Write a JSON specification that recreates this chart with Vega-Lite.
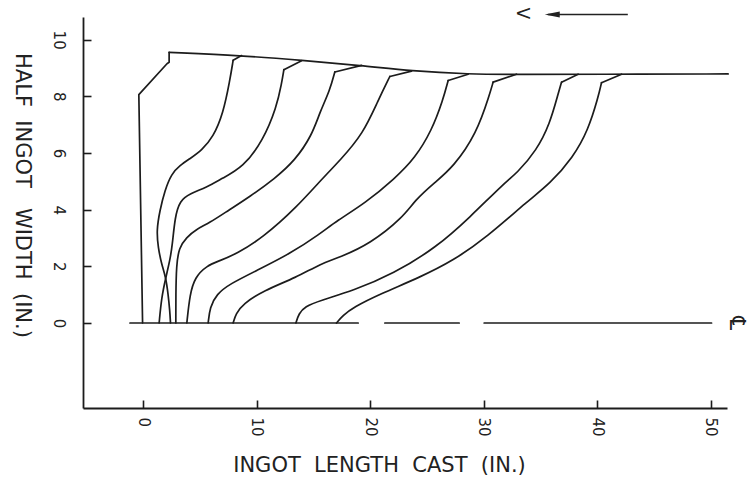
{
  "$schema": "https://vega.github.io/schema/vega-lite/v6.json",
  "width": 644,
  "height": 391,
  "autosize": {"type": "none"},
  "padding": {"left": 83, "top": 17, "right": 26, "bottom": 71},
  "background": "white",
  "config": {"view": {"stroke": null}, "font": "DejaVu Sans"},
  "datasets": {
    "straight": [
      {"s": "outer", "i": 1, "x": -0.05, "y": 0},
      {"s": "outer", "i": 2, "x": -0.38, "y": 8.06},
      {"s": "outer", "i": 3, "x": 2.1, "y": 9.15},
      {"s": "outer", "i": 4, "x": 2.29, "y": 9.2},
      {"s": "outer", "i": 5, "x": 2.29, "y": 9.55},
      {"s": "cl1", "i": 1, "x": -1.16, "y": 0},
      {"s": "cl1", "i": 2, "x": 18.95, "y": 0},
      {"s": "cl2", "i": 1, "x": 21.3, "y": 0},
      {"s": "cl2", "i": 2, "x": 27.85, "y": 0},
      {"s": "cl3", "i": 1, "x": 30.05, "y": 0},
      {"s": "cl3", "i": 2, "x": 50.09, "y": 0},
      {"s": "h1", "i": 1, "x": 8.67, "y": 9.44},
      {"s": "h1", "i": 2, "x": 7.93, "y": 9.27},
      {"s": "h2", "i": 1, "x": 13.96, "y": 9.26},
      {"s": "h2", "i": 2, "x": 12.4, "y": 8.94},
      {"s": "h3", "i": 1, "x": 19.25, "y": 9.09},
      {"s": "h3", "i": 2, "x": 16.89, "y": 8.86},
      {"s": "h4", "i": 1, "x": 23.65, "y": 8.89},
      {"s": "h4", "i": 2, "x": 21.74, "y": 8.7},
      {"s": "h5", "i": 1, "x": 28.64, "y": 8.78},
      {"s": "h5", "i": 2, "x": 26.88, "y": 8.56},
      {"s": "h6", "i": 1, "x": 32.9, "y": 8.78},
      {"s": "h6", "i": 2, "x": 30.84, "y": 8.5},
      {"s": "h7", "i": 1, "x": 38.33, "y": 8.78},
      {"s": "h7", "i": 2, "x": 36.87, "y": 8.5},
      {"s": "h8", "i": 1, "x": 42.16, "y": 8.78},
      {"s": "h8", "i": 2, "x": 40.39, "y": 8.48}
    ],
    "curves": [
      {"s": "top", "i": 1, "x": 2.29, "y": 9.55},
      {"s": "top", "i": 2, "x": 8.67, "y": 9.44},
      {"s": "top", "i": 3, "x": 13.96, "y": 9.27},
      {"s": "top", "i": 4, "x": 19.25, "y": 9.09},
      {"s": "top", "i": 5, "x": 23.65, "y": 8.89},
      {"s": "top", "i": 6, "x": 28.64, "y": 8.78},
      {"s": "top", "i": 7, "x": 33.2, "y": 8.77},
      {"s": "top", "i": 8, "x": 40.0, "y": 8.78},
      {"s": "top", "i": 9, "x": 51.55, "y": 8.79},

      {"s": "c1", "i": 2, "x": 7.93, "y": 9.27},
      {"s": "c1", "i": 3, "x": 7.64, "y": 8.56},
      {"s": "c1", "i": 4, "x": 7.05, "y": 7.39},
      {"s": "c1", "i": 5, "x": 6.17, "y": 6.56},
      {"s": "c1", "i": 6, "x": 5.15, "y": 6.09},
      {"s": "c1", "i": 7, "x": 4.12, "y": 5.8},
      {"s": "c1", "i": 8, "x": 3.24, "y": 5.56},
      {"s": "c1", "i": 9, "x": 2.5, "y": 5.27},
      {"s": "c1", "i": 10, "x": 1.91, "y": 4.68},
      {"s": "c1", "i": 11, "x": 1.47, "y": 3.97},
      {"s": "c1", "i": 12, "x": 1.18, "y": 3.27},
      {"s": "c1", "i": 13, "x": 1.32, "y": 2.67},
      {"s": "c1", "i": 14, "x": 1.62, "y": 2.08},
      {"s": "c1", "i": 15, "x": 2.0, "y": 1.61},
      {"s": "c1", "i": 16, "x": 2.2, "y": 1.02},
      {"s": "c1", "i": 17, "x": 2.35, "y": 0.43},
      {"s": "c1", "i": 18, "x": 2.41, "y": 0},

      {"s": "c2", "i": 2, "x": 12.4, "y": 8.94},
      {"s": "c2", "i": 3, "x": 12.2, "y": 8.45},
      {"s": "c2", "i": 4, "x": 11.76, "y": 7.62},
      {"s": "c2", "i": 5, "x": 10.57, "y": 6.44},
      {"s": "c2", "i": 6, "x": 8.81, "y": 5.5},
      {"s": "c2", "i": 7, "x": 6.94, "y": 5.1},
      {"s": "c2", "i": 8, "x": 5.59, "y": 4.79},
      {"s": "c2", "i": 9, "x": 4.12, "y": 4.56},
      {"s": "c2", "i": 10, "x": 3.23, "y": 4.32},
      {"s": "c2", "i": 11, "x": 2.8, "y": 3.73},
      {"s": "c2", "i": 12, "x": 2.57, "y": 2.73},
      {"s": "c2", "i": 13, "x": 2.35, "y": 2.2},
      {"s": "c2", "i": 14, "x": 2.0, "y": 1.61},
      {"s": "c2", "i": 15, "x": 1.62, "y": 0.9},
      {"s": "c2", "i": 16, "x": 1.41, "y": 0},

      {"s": "c3", "i": 2, "x": 16.89, "y": 8.86},
      {"s": "c3", "i": 3, "x": 16.45, "y": 8.21},
      {"s": "c3", "i": 4, "x": 15.57, "y": 7.44},
      {"s": "c3", "i": 5, "x": 14.87, "y": 6.62},
      {"s": "c3", "i": 6, "x": 13.37, "y": 5.73},
      {"s": "c3", "i": 7, "x": 11.61, "y": 5.1},
      {"s": "c3", "i": 8, "x": 9.4, "y": 4.46},
      {"s": "c3", "i": 9, "x": 7.46, "y": 3.96},
      {"s": "c3", "i": 10, "x": 5.88, "y": 3.54},
      {"s": "c3", "i": 11, "x": 4.64, "y": 3.3},
      {"s": "c3", "i": 12, "x": 3.82, "y": 3.02},
      {"s": "c3", "i": 13, "x": 3.15, "y": 2.66},
      {"s": "c3", "i": 14, "x": 2.93, "y": 2.02},
      {"s": "c3", "i": 15, "x": 2.88, "y": 1.0},
      {"s": "c3", "i": 16, "x": 2.88, "y": 0},

      {"s": "c4", "i": 2, "x": 21.74, "y": 8.7},
      {"s": "c4", "i": 3, "x": 20.71, "y": 7.86},
      {"s": "c4", "i": 4, "x": 19.39, "y": 6.68},
      {"s": "c4", "i": 5, "x": 17.33, "y": 5.73},
      {"s": "c4", "i": 6, "x": 15.86, "y": 5.13},
      {"s": "c4", "i": 7, "x": 13.52, "y": 4.08},
      {"s": "c4", "i": 8, "x": 10.57, "y": 3.02},
      {"s": "c4", "i": 9, "x": 8.23, "y": 2.44},
      {"s": "c4", "i": 10, "x": 6.76, "y": 2.2},
      {"s": "c4", "i": 11, "x": 5.59, "y": 2.02},
      {"s": "c4", "i": 12, "x": 4.56, "y": 1.61},
      {"s": "c4", "i": 13, "x": 4.12, "y": 1.02},
      {"s": "c4", "i": 14, "x": 3.85, "y": 0},

      {"s": "c5", "i": 2, "x": 26.88, "y": 8.56},
      {"s": "c5", "i": 3, "x": 26.41, "y": 7.86},
      {"s": "c5", "i": 4, "x": 25.44, "y": 6.8},
      {"s": "c5", "i": 5, "x": 23.94, "y": 5.81},
      {"s": "c5", "i": 6, "x": 22.18, "y": 5.1},
      {"s": "c5", "i": 7, "x": 19.54, "y": 4.22},
      {"s": "c5", "i": 8, "x": 17.07, "y": 3.61},
      {"s": "c5", "i": 9, "x": 15.57, "y": 3.14},
      {"s": "c5", "i": 10, "x": 12.93, "y": 2.44},
      {"s": "c5", "i": 11, "x": 9.99, "y": 1.85},
      {"s": "c5", "i": 12, "x": 7.64, "y": 1.38},
      {"s": "c5", "i": 13, "x": 6.47, "y": 1.02},
      {"s": "c5", "i": 14, "x": 5.88, "y": 0.55},
      {"s": "c5", "i": 15, "x": 5.73, "y": 0},

      {"s": "c6", "i": 2, "x": 30.84, "y": 8.5},
      {"s": "c6", "i": 3, "x": 30.55, "y": 8.09},
      {"s": "c6", "i": 4, "x": 29.38, "y": 6.68},
      {"s": "c6", "i": 5, "x": 27.32, "y": 5.5},
      {"s": "c6", "i": 6, "x": 25.7, "y": 4.96},
      {"s": "c6", "i": 7, "x": 23.94, "y": 4.33},
      {"s": "c6", "i": 8, "x": 22.91, "y": 3.73},
      {"s": "c6", "i": 9, "x": 19.98, "y": 2.79},
      {"s": "c6", "i": 10, "x": 17.33, "y": 2.32},
      {"s": "c6", "i": 11, "x": 15.57, "y": 2.08},
      {"s": "c6", "i": 12, "x": 13.52, "y": 1.61},
      {"s": "c6", "i": 13, "x": 10.57, "y": 1.14},
      {"s": "c6", "i": 14, "x": 8.81, "y": 0.67},
      {"s": "c6", "i": 15, "x": 8.17, "y": 0.33},
      {"s": "c6", "i": 16, "x": 7.93, "y": 0},

      {"s": "c7", "i": 2, "x": 36.87, "y": 8.5},
      {"s": "c7", "i": 3, "x": 36.57, "y": 8.09},
      {"s": "c7", "i": 4, "x": 35.84, "y": 7.03},
      {"s": "c7", "i": 5, "x": 34.67, "y": 6.09},
      {"s": "c7", "i": 6, "x": 32.9, "y": 5.27},
      {"s": "c7", "i": 7, "x": 31.87, "y": 4.96},
      {"s": "c7", "i": 8, "x": 28.79, "y": 3.73},
      {"s": "c7", "i": 9, "x": 25.85, "y": 2.67},
      {"s": "c7", "i": 10, "x": 22.03, "y": 1.73},
      {"s": "c7", "i": 11, "x": 18.51, "y": 1.14},
      {"s": "c7", "i": 12, "x": 15.57, "y": 0.79},
      {"s": "c7", "i": 13, "x": 14.25, "y": 0.58},
      {"s": "c7", "i": 14, "x": 13.72, "y": 0.33},
      {"s": "c7", "i": 15, "x": 13.46, "y": 0},

      {"s": "c8", "i": 2, "x": 40.39, "y": 8.48},
      {"s": "c8", "i": 3, "x": 40.1, "y": 7.97},
      {"s": "c8", "i": 4, "x": 39.21, "y": 6.8},
      {"s": "c8", "i": 5, "x": 37.89, "y": 5.85},
      {"s": "c8", "i": 6, "x": 35.84, "y": 4.91},
      {"s": "c8", "i": 7, "x": 33.93, "y": 4.32},
      {"s": "c8", "i": 8, "x": 30.26, "y": 3.02},
      {"s": "c8", "i": 9, "x": 27.32, "y": 2.2},
      {"s": "c8", "i": 10, "x": 24.38, "y": 1.61},
      {"s": "c8", "i": 11, "x": 20.86, "y": 1.02},
      {"s": "c8", "i": 12, "x": 18.51, "y": 0.55},
      {"s": "c8", "i": 13, "x": 17.6, "y": 0.26},
      {"s": "c8", "i": 14, "x": 17.04, "y": 0}
    ],
    "notes": [
      {"label": "V", "x": 33.35, "y": 10.93, "size": 17},
      {"label": "℄", "x": 52.35, "y": 0, "size": 22}
    ],
    "arrow": [
      {"x": 35.66, "x2": 42.71, "y": 10.89, "xh": 36.05}
    ]
  },
  "layer": [
    {
      "data": {"name": "straight"},
      "mark": {"type": "line", "stroke": "#1c1c1c", "strokeWidth": 1.7, "strokeJoin": "round", "strokeCap": "round"},
      "encoding": {
        "x": {
          "field": "x", "type": "quantitative",
          "scale": {"domain": [-5.3, 51.45], "nice": false, "zero": false},
          "axis": {
            "values": [0, 10, 20, 30, 40, 50],
            "title": "INGOT\u00a0\u00a0LENGTH\u00a0\u00a0CAST\u00a0\u00a0(IN.)",
            "grid": false,
            "labelAngle": 90, "labelAlign": "left", "labelBaseline": "middle",
            "labelPadding": 17, "labelFlush": false,
            "labelFontSize": 15, "labelColor": "#222222", "labelFont": "DejaVu Sans",
            "tickSize": -8, "tickWidth": 1.6, "tickColor": "#1c1c1c",
            "domainColor": "#1c1c1c", "domainWidth": 1.8,
            "titleFontSize": 21, "titleFontWeight": "normal", "titleColor": "#222222", "titleFont": "DejaVu Sans",
            "titleX": 296, "titleY": 57, "titleAlign": "center", "titleBaseline": "middle", "titleAngle": 0
          }
        },
        "y": {
          "field": "y", "type": "quantitative",
          "scale": {"domain": [-3, 10.8], "nice": false, "zero": false},
          "axis": {
            "values": [0, 2, 4, 6, 8, 10],
            "title": "HALF\u00a0\u00a0INGOT\u00a0\u00a0\u00a0WIDTH\u00a0\u00a0(IN.)",
            "grid": false,
            "labelAngle": 90, "labelAlign": "center", "labelBaseline": "top",
            "labelPadding": 26, "labelFlush": false,
            "labelFontSize": 15, "labelColor": "#222222", "labelFont": "DejaVu Sans",
            "tickSize": -8, "tickWidth": 1.6, "tickColor": "#1c1c1c",
            "domainColor": "#1c1c1c", "domainWidth": 1.8,
            "titleFontSize": 21, "titleFontWeight": "normal", "titleColor": "#222222", "titleFont": "DejaVu Sans",
            "titleX": -62, "titleY": 178, "titleAlign": "center", "titleBaseline": "middle", "titleAngle": 90
          }
        },
        "detail": {"field": "s", "type": "nominal"},
        "order": {"field": "i", "type": "quantitative"}
      }
    },
    {
      "data": {"name": "curves"},
      "mark": {"type": "line", "interpolate": "basis", "stroke": "#1c1c1c", "strokeWidth": 1.7, "strokeJoin": "round", "strokeCap": "round"},
      "encoding": {
        "x": {"field": "x", "type": "quantitative"},
        "y": {"field": "y", "type": "quantitative"},
        "detail": {"field": "s", "type": "nominal"},
        "order": {"field": "i", "type": "quantitative"}
      }
    },
    {
      "data": {"name": "notes"},
      "mark": {"type": "text", "angle": 90, "align": "center", "baseline": "middle", "color": "#222222", "font": "DejaVu Sans"},
      "encoding": {
        "x": {"field": "x", "type": "quantitative"},
        "y": {"field": "y", "type": "quantitative"},
        "text": {"field": "label", "type": "nominal"},
        "size": {"field": "size", "type": "quantitative", "scale": null}
      }
    },
    {
      "data": {"name": "arrow"},
      "mark": {"type": "rule", "stroke": "#222222", "strokeWidth": 1.4},
      "encoding": {
        "x": {"field": "x", "type": "quantitative"},
        "x2": {"field": "x2"},
        "y": {"field": "y", "type": "quantitative"}
      }
    },
    {
      "data": {"name": "arrow"},
      "mark": {"type": "point", "shape": "M -1 0 L 1 -0.4 L 1 0.4 Z", "filled": true, "color": "#222222", "size": 225, "opacity": 1},
      "encoding": {
        "x": {"field": "xh", "type": "quantitative"},
        "y": {"field": "y", "type": "quantitative"}
      }
    }
  ]
}
